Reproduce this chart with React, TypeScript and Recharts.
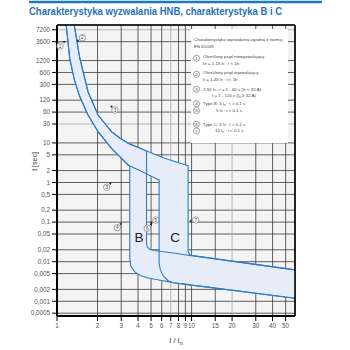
import React from 'react';
import { ComposedChart, Area, XAxis, YAxis, CartesianGrid, ReferenceLine } from 'recharts';

// I / In (multiple of rated current) sample positions along the bands
const currentMultiple = [1.161, 1.171, 1.243, 1.343, 1.475, 1.701, 2.018, 2.54, 2.927, 3.376, 3.474, 3.474, 3.535, 3.785, 4.196, 4.627, 4.627, 4.69, 4.89, 5.197, 5.64, 5.74, 5.74, 5.86, 6.17, 6.66, 7.3, 9.43, 9.43, 9.63, 10.05, 10.76, 58.7];
// characteristic B: lower / upper tripping time [s]
const bLow = [15000, 9490, 1368, 401, 147.6, 50.7, 19.2, 7.31, 4.51, 2.77, 2.61, 0.0124, 0.0078, 0.0055, 0.0044, 0.00397, 0.00397, 0.0039, 0.0038, 0.00366, 0.0035, 0.00343, 0.00343, 0.0034, 0.0033, 0.00313, 0.00295, 0.00264, 0.00264, 0.0026, 0.00255, 0.00248, 0.00119];
const bHigh = [15000, 15000, 15000, 9490, 1393, 196, 50.7, 19.2, 13.3, 9.77, 9.38, 9.38, 9.17, 8.3, 7.18, 6.24, 0.029, 0.0235, 0.0203, 0.0191, 0.0186, 0.0185, 0.0185, 0.0183, 0.0179, 0.0173, 0.0165, 0.0146, 0.0146, 0.0144, 0.0142, 0.0138, 0.0062];
// characteristic C: lower / upper tripping time [s]
const cLow = [15000, 9490, 1368, 401, 147.6, 50.7, 19.2, 7.31, 4.51, 2.77, 2.61, 2.61, 2.56, 2.3, 1.94, 1.65, 1.65, 1.61, 1.5, 1.36, 1.18, 1.156, 0.0091, 0.0062, 0.00436, 0.00335, 0.00295, 0.00264, 0.00264, 0.0026, 0.00255, 0.00248, 0.00119];
const cHigh = [15000, 15000, 15000, 9490, 1393, 196, 50.7, 19.2, 13.3, 9.77, 9.38, 9.38, 9.17, 8.3, 7.18, 6.24, 6.24, 6.14, 5.79, 5.33, 4.78, 4.67, 4.67, 4.54, 4.23, 3.85, 3.49, 2.66, 0.0186, 0.0152, 0.0143, 0.0138, 0.0062];

const xTicks = [1, 2, 3, 4, 5, 6, 7, 8, 9, 10, 15, 20, 30, 40, 50];
const yTicks = [7200, 3600, 1200, 600, 300, 120, 60, 30, 10, 5, 2, 1, 0.5, 0.2, 0.1, 0.05, 0.02, 0.01, 0.005, 0.002, 0.001, 0.0005];
const lightX = [7, 20];
const lightY = [7200, 30];

const xDomain = [1, 58.7];
const yDomain = [0.000425, 9490];

const data = currentMultiple.map((x, i) => ({ x, b: [bLow[i], bHigh[i]], c: [cLow[i], cHigh[i]] }));

const FONT = 'Liberation Sans, Arial, sans-serif';
const BAND_FILL = '#e6edf8';
const BAND_STROKE = '#2c7cc8';

const fmtY = (v: number) => String(v).replace('.', ',');

const Marker = ({ cx, cy, n }: { cx: number; cy: number; n: string }) => (
  <g>
    <circle cx={cx} cy={cy} r={3.2} fill="#fff" stroke="#666" strokeWidth={0.6} />
    <text x={cx} y={cy + 1.6} fontSize={4.6} textAnchor="middle" fill="#333" fontFamily={FONT}>{n}</text>
  </g>
);

const Arrow = ({ x, y, r }: { x: number; y: number; r: number }) => (
  <polygon points="0,-1.3 2.2,0 0,1.3" transform={`translate(${x} ${y}) rotate(${r})`} fill="#111" />
);

const LegendCircle = ({ cy, n }: { cy: number; n: string }) => (
  <g>
    <circle cx={196.5} cy={cy} r={3.1} fill="#fff" stroke="#555" strokeWidth={0.55} />
    <text x={196.5} y={cy + 1.6} fontSize={4.4} textAnchor="middle" fill="#333" fontFamily={FONT}>{n}</text>
  </g>
);

export default function App() {
  const vLine = (p: any) => {
    const light = lightX.includes(xTicks[p.index]);
    return <line key={`v${p.index}`} x1={p.x1} y1={p.y1} x2={p.x2} y2={p.y2} stroke={light ? '#a8a8a8' : '#3a3a3a'} strokeWidth={0.8} />;
  };
  const hLine = (p: any) => {
    const light = lightY.includes(yTicks[p.index]);
    return <line key={`h${p.index}`} x1={p.x1} y1={p.y1} x2={p.x2} y2={p.y2} stroke={light ? '#a8a8a8' : '#3a3a3a'} strokeWidth={0.8} />;
  };
  const ts = { fontSize: 6.3, fill: '#555', fontFamily: FONT };
  const lt = { fontSize: 4.4, fill: '#444', fontFamily: FONT };
  return (
    <div style={{ position: 'absolute', left: 0, top: 0, width: 350, height: 350, background: '#fff' }}>
      <ComposedChart width={350} height={350} data={data} margin={{ top: 25, right: 55, bottom: 14, left: 10 }}>
        <CartesianGrid fill="#f4f4f4" vertical={vLine} horizontal={hLine} />
        <XAxis dataKey="x" type="number" scale="log" domain={xDomain} allowDataOverflow ticks={xTicks} interval={0}
          height={20} tickSize={5} tickMargin={3} tick={ts}
          axisLine={{ stroke: '#000', strokeWidth: 2 }} tickLine={{ stroke: '#000', strokeWidth: 1 }} />
        <YAxis type="number" scale="log" domain={yDomain} allowDataOverflow ticks={yTicks} interval={0}
          width={47} tickSize={5} tickMargin={2} tick={ts} tickFormatter={fmtY}
          axisLine={{ stroke: '#000', strokeWidth: 2 }} tickLine={{ stroke: '#000', strokeWidth: 1 }} />
        <Area dataKey="b" type="linear" fill={BAND_FILL} fillOpacity={1} stroke="none" dot={false} activeDot={false} isAnimationActive={false} />
        <Area dataKey="c" type="linear" fill={BAND_FILL} fillOpacity={1} stroke="none" dot={false} activeDot={false} isAnimationActive={false} />
        <Area dataKey="b" type="linear" fill="none" stroke={BAND_STROKE} strokeWidth={1.1} dot={false} activeDot={false} isAnimationActive={false} />
        <Area dataKey="c" type="linear" fill="none" stroke={BAND_STROKE} strokeWidth={1.1} dot={false} activeDot={false} isAnimationActive={false} />
        <ReferenceLine x={xDomain[1]} stroke="#000" strokeWidth={1.6} />
        <ReferenceLine y={yDomain[1]} stroke="#000" strokeWidth={1.4} />
      </ComposedChart>
      <svg width={350} height={350} style={{ position: 'absolute', left: 0, top: 0, pointerEvents: 'none' }}>
        <line x1={29} y1={2} x2={322} y2={2} stroke="#1b78c4" strokeWidth={2.5} />
        <text x={29} y={15} fontFamily={FONT} fontWeight="bold" fontSize={11} fill="#1f72ba" textLength={253} lengthAdjust="spacingAndGlyphs">Charakterystyka wyzwalania HNB, charakterystyka B i C</text>

        <text x={34} y={161.5} transform="rotate(-90 34 161.5)" textAnchor="middle" dominantBaseline="central" fontSize={7} fill="#333" fontFamily={FONT}>t [sec]</text>
        <text x={176} y={343} textAnchor="middle" fontSize={7.5} fill="#333" fontFamily={FONT}>I / I<tspan dy={2} fontSize={5.5}>n</tspan></text>

        <rect x={191} y={29} width={97} height={114} fill="#fff" />
        <text x={194} y={41} {...lt}>Charakterystyka wyzwalania zgodna z normą</text>
        <text x={194} y={48} {...lt}>EN 61009</text>
        <LegendCircle cy={58.3} n="1" />
        <text x={203} y={58} {...lt}>Określony prąd niewyzwalający</text>
        <text x={203} y={64.5} {...lt}>I<tspan fontSize={3} dy={0.8}>nt</tspan><tspan dy={-0.8}> = 1,13 I</tspan><tspan fontSize={3} dy={0.8}>n</tspan><tspan dy={-0.8}> : t &lt; 1h</tspan></text>
        <LegendCircle cy={74.3} n="2" />
        <text x={203} y={74} {...lt}>Określony prąd wyzwalający</text>
        <text x={203} y={80.5} {...lt}>I<tspan fontSize={3} dy={0.8}>t</tspan><tspan dy={-0.8}> = 1,45 I</tspan><tspan fontSize={3} dy={0.8}>n</tspan><tspan dy={-0.8}> : t &lt; 1h</tspan></text>
        <LegendCircle cy={89.3} n="3" />
        <text x={203} y={90.5} {...lt}>2,55 I<tspan fontSize={3} dy={0.8}>n</tspan><tspan dy={-0.8}> : t = 1 - 60 s (I</tspan><tspan fontSize={3} dy={0.8}>n</tspan><tspan dy={-0.8}> &lt; 32 A)</tspan></text>
        <text x={212} y={97} {...lt}>t = 1 - 120 s (I<tspan fontSize={3} dy={0.8}>n</tspan><tspan dy={-0.8}> ≥ 32 A)</tspan></text>
        <LegendCircle cy={103.7} n="4" />
        <text x={203} y={105} {...lt}>Type B: 3 I<tspan fontSize={3} dy={0.8}>n</tspan><tspan dy={-0.8}> : t &gt; 0,1 s</tspan></text>
        <LegendCircle cy={110.5} n="5" />
        <text x={216} y={111.5} {...lt}>5 I<tspan fontSize={3} dy={0.8}>n</tspan><tspan dy={-0.8}> : t &lt; 0,1 s</tspan></text>
        <LegendCircle cy={124.3} n="6" />
        <text x={203} y={125.5} {...lt}>Type C: 5 I<tspan fontSize={3} dy={0.8}>n</tspan><tspan dy={-0.8}> : t &gt; 0,1 s</tspan></text>
        <LegendCircle cy={131} n="7" />
        <text x={215} y={132} {...lt}>10 I<tspan fontSize={3} dy={0.8}>n</tspan><tspan dy={-0.8}> : t &lt; 0,1 s</tspan></text>

        <Marker cx={60} cy={46} n="1" />
        <Arrow x={63.5} y={42.5} r={-45} />
        <Marker cx={82.3} cy={37.7} n="2" />
        <Arrow x={78.5} y={41} r={-135} />
        <Marker cx={115} cy={110} n="3" />
        <Arrow x={112} y={107} r={-135} />
        <Marker cx={106.7} cy={187.3} n="3" />
        <Arrow x={109.8} y={184} r={-45} />
        <Marker cx={117.3} cy={227.7} n="4" />
        <Arrow x={120.3} y={224.5} r={-45} />
        <Marker cx={155.7} cy={220} n="5" />
        <Arrow x={152} y={222.5} r={150} />
        <Marker cx={147.3} cy={228.3} n="6" />
        <Arrow x={150.5} y={225} r={-45} />
        <Marker cx={195.7} cy={220} n="7" />
        <Arrow x={191.5} y={221} r={180} />

        <text x={139} y={241.7} textAnchor="middle" fontSize={13.5} fill="#222" fontFamily={FONT}>B</text>
        <text x={175} y={241.7} textAnchor="middle" fontSize={13.5} fill="#222" fontFamily={FONT}>C</text>
      </svg>
    </div>
  );
}
